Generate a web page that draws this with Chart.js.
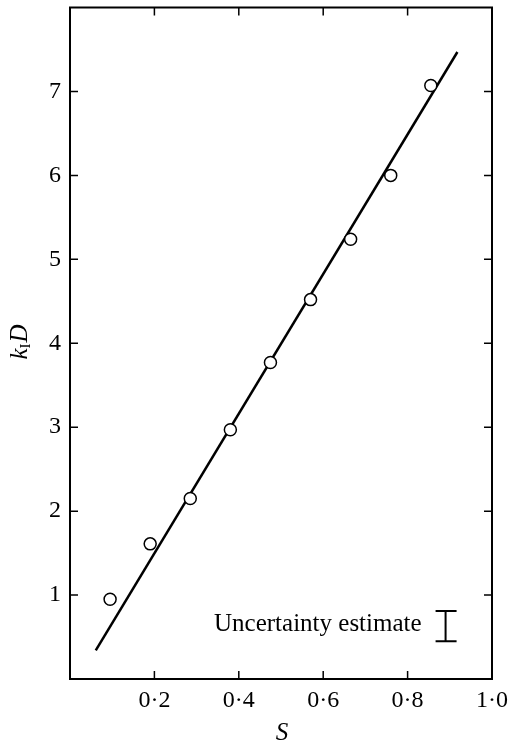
<!DOCTYPE html>
<html>
<head>
<meta charset="utf-8">
<script src="https://cdn.jsdelivr.net/npm/chart.js@4.4.1/dist/chart.umd.min.js"></script>
<style>
  html, body { margin: 0; padding: 0; background: #fff; }
  #wrap { width: 511px; height: 745px; }
</style>
</head>
<body>
<div id="wrap"><canvas id="chart"></canvas></div>
<script>
// measured points
const sVals = [0.095, 0.19, 0.285, 0.38, 0.475, 0.57, 0.665, 0.76, 0.855];
const kdVals = [0.95, 1.61, 2.15, 2.97, 3.77, 4.52, 5.24, 6.0, 7.07];

// fitted straight line (end points)
const lineS = [0.061, 0.918];
const lineKD = [0.34, 7.47];

// uncertainty bar
const uncertS = 0.89;
const uncertKD = 0.63;
const uncertHalf = 0.18;
const uncertLabel = "Uncertainty estimate";

const xTicks = [0.2, 0.4, 0.6, 0.8, 1.0];
const yTicks = [1, 2, 3, 4, 5, 6, 7];

const FONT = "'Liberation Serif', 'DejaVu Serif', serif";

const ctx = document.getElementById("chart").getContext("2d");

const fmtDot = v => v.toFixed(1).replace(".", "\u00b7");

// frame, inward ticks on all four sides, titles, uncertainty mark
const extras = {
    id: "extras",
    afterDraw(chart) {
        const c = chart.ctx;
        const a = chart.chartArea;
        const xs = chart.scales.x, ys = chart.scales.y;
        c.save();
        c.strokeStyle = "#000";
        c.lineWidth = 2;
        c.strokeRect(a.left, a.top, a.right - a.left, a.bottom - a.top);

        c.lineWidth = 1.5;
        c.beginPath();
        xTicks.forEach(v => {
            const px = xs.getPixelForValue(v);
            if (v >= 1) return;
            c.moveTo(px, a.bottom); c.lineTo(px, a.bottom - 8);
            c.moveTo(px, a.top); c.lineTo(px, a.top + 8);
        });
        yTicks.forEach(v => {
            const py = ys.getPixelForValue(v);
            c.moveTo(a.left, py); c.lineTo(a.left + 8, py);
            c.moveTo(a.right, py); c.lineTo(a.right - 8, py);
        });
        c.stroke();

        // uncertainty bar
        const ux = xs.getPixelForValue(uncertS);
        const uy1 = ys.getPixelForValue(uncertKD + uncertHalf);
        const uy2 = ys.getPixelForValue(uncertKD - uncertHalf);
        c.lineWidth = 2;
        c.beginPath();
        c.moveTo(ux, uy1); c.lineTo(ux, uy2);
        c.moveTo(ux - 10, uy1); c.lineTo(ux + 11, uy1);
        c.moveTo(ux - 10, uy2); c.lineTo(ux + 11, uy2);
        c.stroke();

        c.fillStyle = "#000";
        c.font = "25px " + FONT;
        c.textAlign = "right";
        c.textBaseline = "middle";
        c.fillText(uncertLabel, ux - 24, ys.getPixelForValue(uncertKD) - 2);

        // x title
        c.font = "italic 25px " + FONT;
        c.textAlign = "center";
        c.textBaseline = "middle";
        c.fillText("S", 282, 733);

        // y title k_I D
        c.translate(20, 342);
        c.rotate(-Math.PI / 2);
        c.textAlign = "left";
        c.font = "italic 25px " + FONT;
        const wk = c.measureText("k").width;
        c.font = "15px " + FONT;
        const wi = c.measureText("I").width;
        c.font = "italic 25px " + FONT;
        const wd = c.measureText("D").width;
        let x0 = -(wk + wi + wd + 1) / 2;
        c.fillText("k", x0, 0);
        c.font = "15px " + FONT;
        c.fillText("I", x0 + wk, 6);
        c.font = "italic 25px " + FONT;
        c.fillText("D", x0 + wk + wi + 1, 0);
        c.restore();
    }
};

new Chart(ctx, {
    type: "scatter",
    data: {
        datasets: [
            {
                label: "fit",
                data: lineS.map((s, i) => ({ x: s, y: lineKD[i] })),
                showLine: true,
                borderColor: "#000",
                borderWidth: 2.5,
                pointRadius: 0,
                order: 2
            },
            {
                label: "measured",
                data: sVals.map((s, i) => ({ x: s, y: kdVals[i] })),
                pointRadius: 6,
                pointBackgroundColor: "#fff",
                pointBorderColor: "#000",
                pointBorderWidth: 1.5,
                order: 1
            }
        ]
    },
    options: {
        responsive: true,
        maintainAspectRatio: false,
        animation: false,
        layout: { padding: { top: 1, right: 19, left: 0, bottom: 0 } },
        plugins: {
            legend: { display: false },
            tooltip: { enabled: false }
        },
        scales: {
            x: {
                type: "linear",
                min: 0,
                max: 1,
                afterFit: s => { s.height = 66; s.paddingLeft = 0; s.paddingRight = 0; },
                afterBuildTicks: s => { s.ticks = xTicks.map(v => ({ value: v })); },
                grid: { display: false, drawTicks: false },
                border: { display: false },
                ticks: {
                    padding: 7,
                    color: "#000",
                    font: { family: FONT, size: 24 },
                    callback: v => fmtDot(v)
                }
            },
            y: {
                type: "linear",
                min: 0,
                max: 8,
                afterFit: s => { s.width = 70; s.paddingTop = 0; s.paddingBottom = 0; },
                afterBuildTicks: s => { s.ticks = yTicks.map(v => ({ value: v })); },
                grid: { display: false, drawTicks: false },
                border: { display: false },
                ticks: {
                    padding: 9,
                    color: "#000",
                    font: { family: FONT, size: 24 },
                    callback: v => String(v)
                }
            }
        }
    },
    plugins: [extras]
});
</script>
</body>
</html>
